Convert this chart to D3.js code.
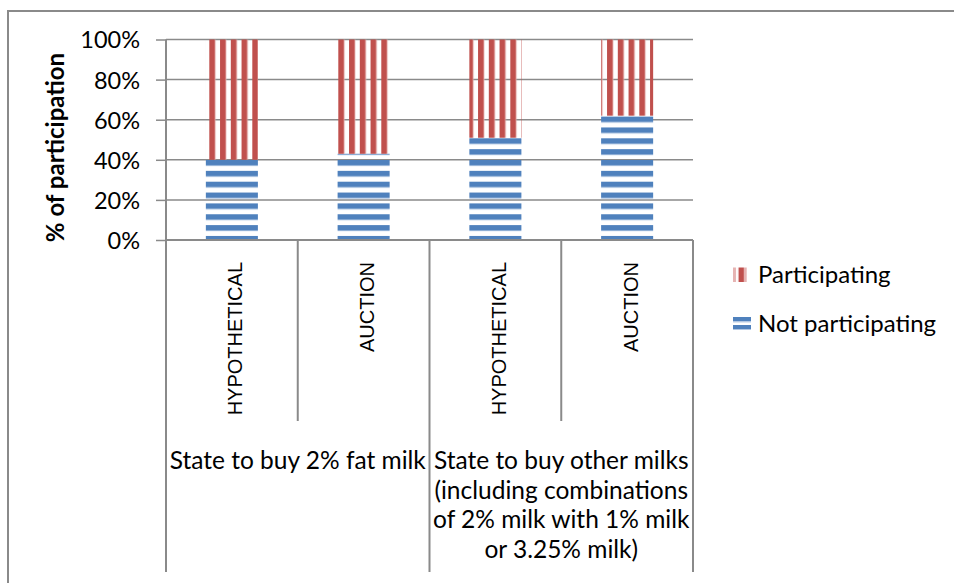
<!DOCTYPE html>
<html>
<head>
<meta charset="utf-8">
<script src="https://cdn.jsdelivr.net/npm/d3@7"></script>
<style>
  html, body { margin: 0; padding: 0; background: #fff; }
  svg { display: block; }
</style>
</head>
<body>
<svg id="chart" width="954" height="583"></svg>
<script>
// Share of respondents per elicitation method, by purchase scenario
const methods = ["HYPOTHETICAL", "AUCTION", "HYPOTHETICAL", "AUCTION"];
const notParticipating = [40, 43, 51, 62];
const participating = [60, 57, 49, 38];
const groupLines = [
  ["State to buy 2% fat milk"],
  ["State to buy other milks", "(including combinations", "of 2% milk with 1% milk", "or 3.25% milk)"]
];
const yTicks = [0, 20, 40, 60, 80, 100];
const seriesNames = ["Not participating", "Participating"];

const RED = "#C0504D", BLUE = "#4F81BD", GRID = "#8a8a8a";
const bodyFont = "Lato, 'Open Sans', sans-serif";

const svg = d3.select("#chart");
const plot = { left: 166, right: 693, top: 39.5, bottom: 240 };
const axisBottom = 572;

const rows = methods.map((m, i) => ({
  key: i, method: m,
  "Not participating": notParticipating[i],
  "Participating": participating[i]
}));
const stacked = d3.stack().keys(seriesNames)(rows);

const x = d3.scaleBand()
  .domain(rows.map(d => d.key))
  .range([plot.left, plot.right])
  .paddingInner(0.605)
  .paddingOuter(0.3025);
const y = d3.scaleLinear().domain([0, 100]).range([plot.bottom, plot.top]);
const step = x.step();

// Fill patterns: vertical stripes for participating, horizontal for not participating
const defs = svg.append("defs");
const vp = defs.append("pattern").attr("id", "vstripe")
  .attr("patternUnits", "userSpaceOnUse")
  .attr("x", 209.3).attr("y", 0).attr("width", 10.75).attr("height", 10);
vp.append("rect").attr("x", -0.8).attr("width", 7.1).attr("height", 10).attr("fill", "#e6b3b2");
vp.append("rect").attr("x", 0).attr("width", 5.5).attr("height", 10).attr("fill", RED);

const hp = defs.append("pattern").attr("id", "hstripe")
  .attr("patternUnits", "userSpaceOnUse")
  .attr("x", 0).attr("y", 160).attr("width", 10).attr("height", 10.85);
hp.append("rect").attr("y", -0.8).attr("width", 10).attr("height", 6.9).attr("fill", "#b9cde6");
hp.append("rect").attr("y", 0).attr("width", 10).attr("height", 5.3).attr("fill", BLUE);

const legendPatV = defs.append("pattern").attr("id", "vstripeLegend")
  .attr("patternUnits", "userSpaceOnUse")
  .attr("x", 733).attr("y", 0).attr("width", 10.75).attr("height", 10);
legendPatV.append("rect").attr("x", 0).attr("width", 3).attr("height", 10).attr("fill", "#e6b3b2");
legendPatV.append("rect").attr("x", 5.5).attr("width", 5.3).attr("height", 10).attr("fill", RED);

const legendPatH = defs.append("pattern").attr("id", "hstripeLegend")
  .attr("patternUnits", "userSpaceOnUse")
  .attr("x", 0).attr("y", 317).attr("width", 10).attr("height", 8);
legendPatH.append("rect").attr("y", 0).attr("width", 10).attr("height", 4.5).attr("fill", BLUE);
legendPatH.append("rect").attr("y", 4.5).attr("width", 10).attr("height", 1).attr("fill", "#b9cde6");

// Outer frame of the chart area
svg.append("path")
  .attr("d", "M8,590 V11 H960")
  .attr("fill", "none").attr("stroke", GRID).attr("stroke-width", 2);

// Horizontal gridlines
svg.append("g").selectAll("line").data(yTicks.filter(t => t > 0)).join("line")
  .attr("x1", plot.left).attr("x2", plot.right)
  .attr("y1", d => y(d)).attr("y2", d => y(d))
  .attr("stroke", GRID).attr("stroke-width", 1.5);

// Stacked bars
const fills = { "Not participating": "url(#hstripe)", "Participating": "url(#vstripe)" };
svg.append("g").selectAll("g").data(stacked).join("g")
  .attr("fill", d => fills[d.key])
  .selectAll("rect").data(d => d).join("rect")
  .attr("x", d => x(d.data.key))
  .attr("width", x.bandwidth())
  .attr("y", d => y(d[1]))
  .attr("height", d => y(d[0]) - y(d[1]));

// Y axis with outside ticks
const yAxis = d3.axisLeft(y).tickValues(yTicks).tickFormat(d => d + "%").tickSize(10).tickPadding(16);
const yg = svg.append("g").attr("transform", `translate(${plot.left},0)`).call(yAxis);
yg.select(".domain").remove();
yg.selectAll(".tick line").attr("stroke", GRID).attr("stroke-width", 1.5);
yg.selectAll(".tick text")
  .attr("font-family", bodyFont).attr("font-size", 23.5).attr("fill", "#000")
  .attr("dy", "0.36em");

// Axis lines
svg.append("line").attr("x1", plot.left).attr("x2", plot.left)
  .attr("y1", plot.top).attr("y2", axisBottom)
  .attr("stroke", GRID).attr("stroke-width", 2);
svg.append("line").attr("x1", plot.left).attr("x2", plot.right)
  .attr("y1", plot.bottom).attr("y2", plot.bottom)
  .attr("stroke", GRID).attr("stroke-width", 2);

// Category dividers: short ones between methods, long ones between groups
const bounds = d3.range(rows.length + 1).map(i => plot.left + i * step);
svg.append("g").selectAll("line").data(bounds).join("line")
  .attr("x1", d => d).attr("x2", d => d)
  .attr("y1", plot.bottom)
  .attr("y2", (d, i) => (i % 2 === 0 ? axisBottom : 421))
  .attr("stroke", GRID).attr("stroke-width", 2);

// Method labels, rotated
svg.append("g").selectAll("text").data(rows).join("text")
  .attr("transform", d => `translate(${x(d.key) + x.bandwidth() / 2 + 10.5},262) rotate(-90)`)
  .attr("text-anchor", "end")
  .attr("font-family", "'Liberation Sans', Arial, sans-serif")
  .attr("font-size", 20)
  .attr("fill", "#000")
  .text(d => d.method);

// Group labels, centred under each pair of methods
const groupCenters = [plot.left + step, plot.left + 3 * step];
groupLines.forEach((lines, g) => {
  svg.append("g").selectAll("text").data(lines).join("text")
    .attr("x", groupCenters[g])
    .attr("y", (d, i) => 469 + i * 29.5)
    .attr("text-anchor", "middle")
    .attr("font-family", bodyFont).attr("font-size", 24.5).attr("fill", "#000")
    .text(d => d);
});

// Y title
svg.append("text")
  .attr("transform", "translate(64,147.5) rotate(-90)")
  .attr("text-anchor", "middle")
  .attr("font-family", bodyFont).attr("font-weight", "bold")
  .attr("font-size", 24).attr("fill", "#000")
  .text("% of participation");

// Legend
const legend = [
  { name: "Participating", fill: "url(#vstripeLegend)", y: 267.5, h: 14.5, w: 14, base: 283.3 },
  { name: "Not participating", fill: "url(#hstripeLegend)", y: 317, h: 13, w: 18, base: 331.7 }
];
const lg = svg.append("g").selectAll("g").data(legend).join("g");
lg.append("rect").attr("x", 733).attr("y", d => d.y).attr("width", d => d.w).attr("height", d => d.h)
  .attr("fill", d => d.fill);
lg.append("text").attr("x", 758).attr("y", d => d.base)
  .attr("font-family", bodyFont).attr("font-size", 24).attr("fill", "#000")
  .text(d => d.name);
</script>
</body>
</html>
